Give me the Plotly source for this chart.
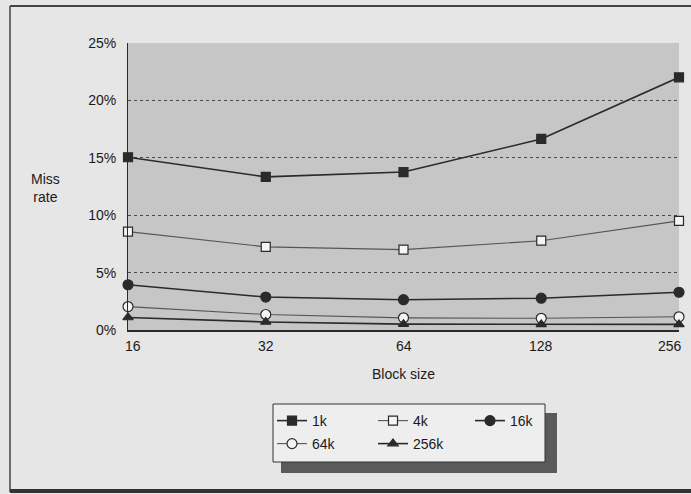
import math
import plotly.graph_objects as go

block_sizes = [16, 32, 64, 128, 256]
tick_labels = ["16", "32", "64", "128", "256"]
y_ticks = [0, 5, 10, 15, 20, 25]
y_tick_labels = ["0%", "5%", "10%", "15%", "20%", "25%"]

miss_1k = [15.05, 13.34, 13.76, 16.64, 22.01]
miss_4k = [8.57, 7.24, 7.00, 7.78, 9.51]
miss_16k = [3.94, 2.87, 2.64, 2.77, 3.29]
miss_64k = [2.04, 1.35, 1.06, 1.02, 1.15]
miss_256k = [1.09, 0.70, 0.51, 0.49, 0.49]

FONT = "Liberation Sans, Arial, sans-serif"
DARK = "#2a2a2a"
GREY = "#555555"
PAGE = "#e6e6e6"

series = [
    ("1k", miss_1k, "square", DARK, DARK, 1.6, "legend"),
    ("4k", miss_4k, "square", "#f4f4f4", GREY, 1.1, "legend"),
    ("16k", miss_16k, "circle", DARK, DARK, 1.6, "legend3"),
    ("64k", miss_64k, "circle", "#f4f4f4", GREY, 1.1, "legend2"),
    ("256k", miss_256k, "triangle-up", DARK, DARK, 1.6, "legend2"),
]

fig = go.Figure()
for name, vals, sym, fill, line_col, lw, leg in series:
    fig.add_trace(go.Scatter(
        x=block_sizes, y=vals, name=name, mode="lines+markers",
        line=dict(color=line_col, width=lw),
        marker=dict(symbol=sym, size=9 if sym != "circle" else 10, color=fill,
                    line=dict(color=DARK, width=1.2)),
        cliponaxis=False, legend=leg,
    ))

# plot area: x 128..679 px, y 43..330 px
def px(xp):
    return (xp - 128) / 551.0

def py(yp):
    return (330 - yp) / 287.0

shapes = [
    # outer page frame
    dict(type="line", xref="paper", yref="paper", x0=px(10), x1=px(700), y0=py(6), y1=py(6),
         line=dict(color="#444", width=2), layer="below"),
    dict(type="line", xref="paper", yref="paper", x0=px(10), x1=px(10), y0=py(6), y1=py(492),
         line=dict(color="#444", width=1.5), layer="below"),
    dict(type="line", xref="paper", yref="paper", x0=px(10), x1=px(700), y0=py(491), y1=py(491),
         line=dict(color="#333", width=4), layer="below"),
    # legend shadow and box
    dict(type="rect", xref="paper", yref="paper", x0=px(281), x1=px(557), y0=py(413), y1=py(473),
         fillcolor="#5a5a5a", line=dict(width=0), layer="below"),
    dict(type="rect", xref="paper", yref="paper", x0=px(273), x1=px(545), y0=py(404), y1=py(462),
         fillcolor="#eeeeee", line=dict(color="#333", width=1), layer="below"),
]

legend_common = dict(orientation="h", xanchor="left", yanchor="top",
                     bgcolor="rgba(0,0,0,0)", entrywidth=56, entrywidthmode="pixels",
                     font=dict(family=FONT, size=14, color="#1a1a1a"), itemclick=False)

# x tick labels placed on the log axis (annotation x is log10 on log axes),
# nudged inward at the ends like the original
label_nudge = [5, 0, 0, 0, -9]
annotations = [
    dict(text=t, xref="x", yref="paper", x=math.log10(v), y=py(346), xshift=s,
         xanchor="center", yanchor="middle", showarrow=False, font=dict(size=14))
    for v, t, s in zip(block_sizes, tick_labels, label_nudge)
]
annotations += [
    dict(text="Miss<br>rate", xref="paper", yref="paper", x=px(45), y=py(188),
         xanchor="center", yanchor="middle",
         showarrow=False, font=dict(size=14), align="center"),
    dict(text="Block size", xref="paper", yref="paper", x=0.5, y=py(374),
         xanchor="center", yanchor="middle",
         showarrow=False, font=dict(size=14)),
]

fig.update_layout(
    width=691, height=494,
    margin=dict(l=128, r=12, t=43, b=164, autoexpand=False),
    paper_bgcolor=PAGE,
    plot_bgcolor="#c6c6c6",
    font=dict(family=FONT, size=14, color="#1a1a1a"),
    showlegend=True,
    legend=dict(x=px(272), y=py(405), **legend_common),
    legend3=dict(x=px(470), y=py(405), **legend_common),
    legend2=dict(x=px(272), y=py(428), **legend_common),
    xaxis=dict(type="log", range=[1.2041, 2.40824], tickvals=block_sizes,
               showticklabels=False,
               showgrid=False, zeroline=False, showline=True, linecolor=DARK, linewidth=2,
               ticks=""),
    yaxis=dict(range=[0, 25], tickvals=y_ticks, ticktext=y_tick_labels,
               showgrid=True, gridcolor="#4a4a4a", griddash="dot", gridwidth=1,
               zeroline=False, showline=True, linecolor=DARK, linewidth=1,
               ticks="", ticklabelstandoff=8, tickfont=dict(size=14)),
    shapes=shapes,
    annotations=annotations,
)

fig.write_html("out.html", config={"displayModeBar": False},
               post_script="document.body.style.margin='0';document.body.style.background='#e6e6e6';")
